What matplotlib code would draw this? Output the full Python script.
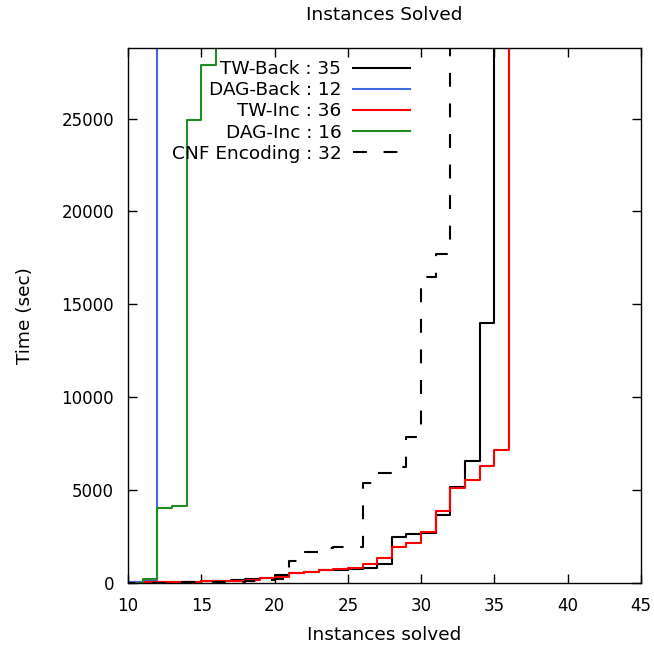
import matplotlib
matplotlib.use("Agg")
import matplotlib.pyplot as plt

plt.rcParams['font.family'] = ['DejaVu Sans']
plt.rcParams['lines.scale_dashes'] = False

# instance index
x_tw_back = list(range(1, 36))
tw_back = [1, 2, 3, 5, 8, 10, 15, 20, 25,
           30, 40, 50, 60, 70, 85, 120, 140, 200, 250, 420,
           560, 620, 680, 720, 780, 830, 1030, 2500, 2620, 2690,
           3650, 5150, 6570, 14020, 28800]

x_dag_back = list(range(1, 13))
dag_back = [1, 2, 3, 5, 8, 10, 15, 20, 30, 50, 100, 28800]

x_tw_inc = list(range(1, 37))
tw_inc = [1, 2, 3, 4, 6, 8, 10, 12, 15,
          20, 30, 40, 60, 70, 90, 110, 130, 170, 270, 320,
          540, 620, 680, 730, 820, 1000, 1330, 1950, 2180, 2770,
          3890, 5110, 5520, 6310, 7170, 28800]

x_dag_inc = list(range(1, 17))
dag_inc = [1, 1, 2, 2, 3, 3, 4, 5, 6, 10, 200, 4030, 4120, 24950, 27900, 28800]

x_cnf = list(range(1, 33))
cnf = [1, 2, 3, 4, 5, 6, 8, 10, 12,
       15, 20, 25, 30, 40, 50, 60, 80, 100, 150, 200,
       1200, 1650, 1900, 1920, 1940, 5380, 5900, 6250, 7870, 16450,
       17700, 28800]

labels = ["TW-Back : 35", "DAG-Back : 12", "TW-Inc : 36", "DAG-Inc : 16", "CNF Encoding : 32"]
colors = ["#000000", "#4169e1", "#ff0000", "#228b22", "#000000"]

xticks = [10, 15, 20, 25, 30, 35, 40, 45]
yticks = [0, 5000, 10000, 15000, 20000, 25000]

fig = plt.figure(figsize=(6.54, 6.52), dpi=100)
ax = fig.add_axes([0.1957, 0.1058, 0.9801 - 0.1957, 0.9264 - 0.1058])

lw = 1.5
series = [(x_tw_back, tw_back), (x_dag_back, dag_back), (x_tw_inc, tw_inc),
          (x_dag_inc, dag_inc), (x_cnf, cnf)]
for i, ((xs, ys), lab, col) in enumerate(zip(series, labels, colors)):
    kw = {}
    if i == 4:
        kw['dashes'] = (10, 12)
    ax.step(xs, ys, where='post', color=col, lw=lw, label=lab, **kw)

ax.set_xlim(10, 45)
ax.set_ylim(0, 28800)
ax.set_xticks(xticks)
ax.set_yticks(yticks)
ax.tick_params(direction='in', length=6.5, width=1, top=True, right=True,
               labelsize=12, pad=10)
for s in ax.spines.values():
    s.set_linewidth(1.0)

fs = 13.3
ax.set_title("Instances Solved", fontsize=fs, pad=20)
ax.set_xlabel("Instances solved", fontsize=fs, labelpad=8)
ax.set_ylabel("Time (sec)", fontsize=fs, labelpad=20)

leg = ax.legend(loc='upper right', bbox_to_anchor=(0.5497, 0.9775), markerfirst=False,
                frameon=False, fontsize=fs, handlelength=3.1, handletextpad=0.62,
                labelspacing=0.175, borderpad=0.0, borderaxespad=0.0)

fig.savefig("out.png", dpi=100)
